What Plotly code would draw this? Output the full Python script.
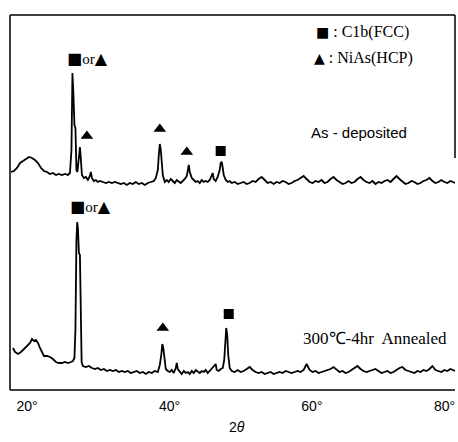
import plotly.graph_objects as go

# ---- X-ray diffraction data (2-theta in degrees, relative intensity) ----

# As-deposited film
asdep_2theta = [
    17.74, 18.16, 18.58, 19.01, 19.43, 19.85, 20.27, 20.69, 21.11, 21.53,
    21.95, 22.37, 22.79, 23.21, 23.63, 24.05, 24.47, 24.89, 25.32, 25.74,
    26.02, 26.23, 26.37, 26.51, 26.65, 26.79, 26.93, 27.07, 27.28, 27.42,
    27.56, 27.70, 27.98, 28.26, 28.54, 28.82, 28.96, 29.10, 29.38, 29.66,
    29.94, 30.22, 30.65, 31.07, 31.49, 31.91, 32.33, 32.75, 33.17, 33.59,
    34.01, 34.43, 34.85, 35.27, 35.69, 36.12, 36.54, 36.96, 37.38, 37.80,
    38.08, 38.36, 38.50, 38.64, 38.78, 38.92, 39.06, 39.34, 39.62, 39.90,
    40.18, 40.46, 40.74, 41.02, 41.30, 41.58, 41.86, 42.15, 42.43, 42.64,
    42.71, 42.85, 43.13, 43.41, 43.69, 43.97, 44.25, 44.53, 44.81, 45.09,
    45.37, 45.65, 45.93, 46.07, 46.21, 46.49, 46.77, 47.05, 47.19, 47.34,
    47.48, 47.62, 47.90, 48.18, 48.46,
]
asdep_counts = [
    11, 12, 15, 20, 22, 24, 26, 25, 23, 20,
    15, 12, 11, 9, 10, 8, 9, 8, 9, 8,
    10, 33, 110, 88, 58, 55, 13, 11, 23, 36,
    23, 8, 5, 6, 3, 7, 11, 5, 2, 3,
    1, 2, 1, 0, 1, 0, 1, 0, -1, 0,
    -2, 0, -1, 1, -1, 0, -2, 0, 1, 2,
    5, 13, 28, 39, 33, 23, 8, 1, 3, 1,
    4, 2, 0, 3, 1, 0, 2, 4, 7, 15,
    18, 11, 5, 3, 1, 2, 0, 3, 1, 2,
    1, 3, 7, 10, 4, 2, 6, 13, 20, 21,
    15, 8, 3, 1, 2,
]

# 300 C - 4 hr annealed film
ann_2theta = [
    18.02, 18.30, 18.72, 19.14, 19.57, 19.99, 20.41, 20.69, 20.97, 21.25,
    21.53, 21.81, 22.09, 22.37, 22.79, 23.21, 23.63, 24.05, 24.47, 24.89,
    25.32, 25.74, 26.16, 26.44, 26.65, 26.79, 26.93, 27.04, 27.14, 27.28,
    27.42, 27.56, 27.66, 27.84, 28.26, 28.68, 29.10, 29.52, 29.94, 30.36,
    30.79, 31.21, 31.63, 32.05, 32.47, 32.89, 33.31, 33.73, 34.15, 34.57,
    34.99, 35.41, 35.83, 36.26, 36.68, 37.10, 37.52, 37.94, 38.36, 38.64,
    38.85, 38.99, 39.13, 39.27, 39.48, 39.76, 40.04, 40.32, 40.60, 40.88,
    41.02, 41.16, 41.44, 41.72, 42.01, 42.29, 42.57, 42.85, 43.13, 43.41,
    43.69, 43.97, 44.25, 44.53, 44.81, 45.09, 45.37, 45.65, 45.93, 46.21,
    46.49, 46.63, 46.91, 47.19, 47.48, 47.69, 47.83, 47.97, 48.11, 48.25,
    48.46,
]
ann_counts = [
    24, 20, 18, 20, 23, 26, 29, 33, 31, 32,
    29, 24, 19, 16, 16, 15, 13, 10, 9, 9,
    10, 9, 10, 11, 14, 42, 132, 150, 144, 119,
    117, 72, 10, 6, 5, 6, 4, 3, 4, 2,
    3, 1, 2, 1, 2, 0, 1, 0, 1, -1,
    0, 1, -1, 0, -2, 0, -1, 1, 0, 7,
    17, 28, 24, 12, 3, 1, 0, 2, -1, 4,
    9, 3, 0, -2, 1, -1, 0, -2, 1, -1,
    2, 0, -1, 1, 0, 2, -1, 1, 3, 6,
    8, 2, 1, 3, 4, 12, 32, 44, 37, 17,
    4,
]

# High-angle region, scanned on the same 2-theta grid for both films
high_2theta = [
    48.74, 49.16, 49.58, 50.00, 50.42, 50.84, 51.26, 51.68, 52.10, 52.52,
    52.95, 53.37, 53.79, 54.21, 54.63, 55.05, 55.47, 55.89, 56.31, 56.73,
    57.15, 57.57, 57.99, 58.41, 58.84, 59.26, 59.68, 60.10, 60.52, 60.94,
    61.36, 61.78, 62.20, 62.62, 63.04, 63.46, 63.88, 64.31, 64.73, 65.15,
    65.57, 65.99, 66.41, 66.83, 67.25, 67.67, 68.09, 68.51, 68.93, 69.35,
    69.78, 70.20, 70.62, 71.04, 71.46, 71.88, 72.30, 72.72, 73.14, 73.56,
    73.98, 74.40, 74.82, 75.25, 75.67, 76.09, 76.51, 76.93, 77.35, 77.77,
    78.19, 78.61, 79.03, 79.45, 79.87, 80.15,
]
asdep_high_counts = [
    0, 1, -1, 0, 1, -1, 0, 2, 1, 4,
    6, 3, 0, 1, -1, 1, 0, 2, 1, -1,
    0, 2, 3, 5, 7, 4, 1, 0, 2, 1,
    3, 0, 1, 4, 6, 3, 1, -1, 0, 2,
    0, 1, 4, 6, 3, 1, 0, 2, -1, 1,
    0, 2, 3, 1, 4, 7, 4, 1, -1, 0,
    2, 1, -1, 0, 2, 3, 5, 2, 0, 1,
    3, 1, 0, 2, 1, 0,
]
ann_high_counts = [
    1, 0, 2, 0, 1, 3, 5, 2, 0, -1,
    0, -2, -1, 0, -2, -1, 0, -1, 1, 0,
    -1, 0, 1, 0, 2, 8, 2, 0, 1, -1,
    0, 1, 2, 3, 5, 2, 0, 1, -1, 0,
    2, 4, 6, 3, 1, 0, 1, 2, 3, 1,
    -1, 0, 1, -1, 0, 2, 4, 5, 2, 1,
    0, -1, 1, 0, 2, 1, 3, 6, 2, 1,
    0, 2, 1, 3, 2, 1,
]

# Vertical stacking of the two patterns
ASDEP_SHIFT = 207
ANN_SHIFT = 18

# Phase marks: (2-theta, height above axis)
tri_2theta = [28.40, 38.64, 42.43, 39.06]
tri_height = [254, 261, 238, 62]
sq_2theta = [47.19, 48.32]
sq_height = [239, 76]

# Doubtful-phase labels over the strongest reflection
mixed_2theta = [28.54, 28.96]
mixed_height = [332, 184]

# Axis ticks; the last one sits at the right edge and is drawn as a note
tick_vals = [20, 40, 60]
tick_text = ["20°", "40°", "60°"]
edge_tick_text = "80°"

X_RANGE = [17.6, 80.1]
Y_RANGE = [0, 375]

fig = go.Figure()

fig.add_trace(go.Scatter(
    x=asdep_2theta + high_2theta,
    y=[c + ASDEP_SHIFT for c in asdep_counts + asdep_high_counts],
    mode="lines", line=dict(color="black", width=1.8), hoverinfo="skip",
))
fig.add_trace(go.Scatter(
    x=ann_2theta + high_2theta,
    y=[c + ANN_SHIFT for c in ann_counts + ann_high_counts],
    mode="lines", line=dict(color="black", width=1.8), hoverinfo="skip",
))
fig.add_trace(go.Scatter(
    x=tri_2theta, y=tri_height, mode="markers",
    marker=dict(symbol="triangle-up", size=11, color="black"), hoverinfo="skip",
))
fig.add_trace(go.Scatter(
    x=sq_2theta, y=sq_height, mode="markers",
    marker=dict(symbol="square", size=10, color="black"), hoverinfo="skip",
))

serif = "Liberation Serif"
sans = "Liberation Sans"


def glyph(ch, size):
    return "<span style='font-family:DejaVu Sans;font-size:%dpx'>%s</span>" % (size, ch)


annotations = []
for xv, yv in zip(mixed_2theta, mixed_height):
    annotations.append(dict(
        x=xv, y=yv, xref="x", yref="y", showarrow=False,
        xanchor="center", yanchor="middle",
        text=glyph("■", 16) + "or" + glyph("▲", 16),
        font=dict(family=serif, size=15, color="black"),
    ))


def px_note(px, py, text, family, size, anchor="center"):
    # place a label at a position measured in the 458x442 page
    return dict(
        x=(px - 10) / 445, y=(390 - py) / 375, xref="paper", yref="paper",
        xanchor=anchor, yanchor="middle", showarrow=False, text=text,
        font=dict(family=family, size=size, color="black"),
    )


annotations += [
    px_note(314, 32, glyph("■", 14) + " : C1b(FCC)", serif, 16, "left"),
    px_note(312, 58, glyph("▲", 14) + " : NiAs(HCP)", serif, 16, "left"),
    px_note(359, 132, "As - deposited", sans, 15),
    px_note(375, 338, "300℃-4hr  Annealed", serif, 17),
    px_note(237, 427, "2<i>θ</i>", sans, 14),
    px_note(457, 406, edge_tick_text, sans, 14, "right"),
]

# Open frame: full top, left and bottom edges, short right edge
frame = [
    dict(x0=0, x1=1, y0=1, y1=1),
    dict(x0=0, x1=0, y0=0, y1=1),
    dict(x0=0, x1=1, y0=0, y1=0),
    dict(x0=1, x1=1, y0=(390 - 158) / 375, y1=1),
]
shapes = [dict(type="line", xref="paper", yref="paper",
               line=dict(color="black", width=1.5), **f) for f in frame]

fig.update_layout(
    width=458, height=442,
    margin=dict(l=10, r=3, t=15, b=52, autoexpand=False),
    paper_bgcolor="white", plot_bgcolor="white",
    showlegend=False,
    annotations=annotations,
    shapes=shapes,
    xaxis=dict(range=X_RANGE, showgrid=False, zeroline=False, showline=False,
               tickvals=tick_vals, ticktext=tick_text, ticks="",
               automargin=False, ticklabelstandoff=6,
               tickfont=dict(family=sans, size=14, color="black")),
    yaxis=dict(range=Y_RANGE, showgrid=False, zeroline=False, showline=False,
               showticklabels=False, ticks=""),
)

fig.write_html("out.html")
